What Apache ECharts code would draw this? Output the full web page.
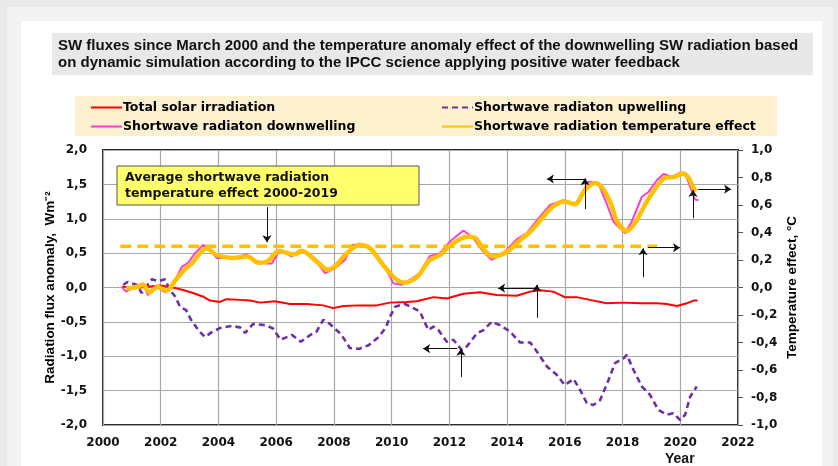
<!DOCTYPE html>
<html>
<head>
<meta charset="utf-8">
<script src="https://cdn.jsdelivr.net/npm/echarts@6/dist/echarts.min.js"></script>
<style>
  html, body { margin: 0; padding: 0; background: #e9e9e9; }
  #chart { width: 838px; height: 466px; }
</style>
</head>
<body>
<div id="chart"></div>
<script>
// Total solar irradiation, W/m2
const tsiYears = [2000.65, 2001.3, 2001.98, 2002.43, 2002.8, 2003.12, 2003.45, 2003.71, 2004.05, 2004.28, 2004.75, 2005.1, 2005.44, 2005.96, 2006.48, 2007.06, 2007.63, 2007.97, 2008.33, 2008.9, 2009.48, 2009.94, 2010.52, 2010.87, 2011.45, 2011.91, 2012.49, 2013.06, 2013.64, 2014.33, 2014.8, 2015.14, 2015.6, 2016.0, 2016.41, 2016.87, 2017.45, 2018.03, 2018.61, 2019.19, 2019.53, 2019.88, 2020.23, 2020.46, 2020.6];
const tsiValues = [0.01, 0.0, 0.03, 0.0, -0.04, -0.08, -0.13, -0.19, -0.21, -0.17, -0.18, -0.19, -0.22, -0.20, -0.24, -0.24, -0.26, -0.30, -0.27, -0.26, -0.26, -0.22, -0.21, -0.20, -0.14, -0.16, -0.09, -0.07, -0.11, -0.12, -0.06, -0.04, -0.06, -0.14, -0.14, -0.18, -0.23, -0.22, -0.23, -0.23, -0.24, -0.27, -0.23, -0.19, -0.19];

// Shortwave upwelling, W/m2
const upYears = [2000.7, 2000.85, 2001.17, 2001.34, 2001.69, 2001.92, 2002.15, 2002.32, 2002.5, 2002.67, 2002.88, 2003.05, 2003.3, 2003.53, 2003.77, 2004.05, 2004.45, 2004.75, 2004.92, 2005.2, 2005.67, 2005.9, 2006.15, 2006.55, 2006.85, 2007.15, 2007.4, 2007.63, 2007.86, 2008.25, 2008.55, 2008.75, 2008.88, 2009.2, 2009.55, 2009.8, 2009.95, 2010.12, 2010.46, 2010.75, 2010.98, 2011.27, 2011.45, 2011.62, 2011.91, 2012.14, 2012.43, 2012.6, 2012.95, 2013.18, 2013.47, 2013.76, 2014.1, 2014.45, 2014.8, 2015.03, 2015.38, 2015.72, 2016.0, 2016.3, 2016.53, 2016.76, 2016.99, 2017.22, 2017.51, 2017.74, 2018.03, 2018.15, 2018.38, 2018.67, 2018.95, 2019.24, 2019.53, 2019.76, 2020.0, 2020.17, 2020.34, 2020.57];
const upValues = [0.04, 0.08, 0.04, -0.08, 0.12, 0.09, 0.12, -0.04, -0.13, -0.28, -0.33, -0.47, -0.62, -0.72, -0.65, -0.59, -0.56, -0.58, -0.66, -0.53, -0.55, -0.60, -0.76, -0.69, -0.79, -0.70, -0.64, -0.47, -0.53, -0.68, -0.88, -0.89, -0.89, -0.84, -0.72, -0.58, -0.42, -0.28, -0.24, -0.30, -0.35, -0.62, -0.57, -0.62, -0.79, -0.76, -0.91, -0.86, -0.67, -0.62, -0.50, -0.55, -0.64, -0.80, -0.80, -0.93, -1.15, -1.27, -1.42, -1.33, -1.49, -1.68, -1.71, -1.64, -1.35, -1.10, -1.03, -0.98, -1.20, -1.44, -1.56, -1.78, -1.85, -1.83, -1.93, -1.85, -1.59, -1.44];

// Shortwave downwelling, W/m2
const downYears = [2000.65, 2000.8, 2001.05, 2001.4, 2001.55, 2001.86, 2002.15, 2002.43, 2002.73, 2002.95, 2003.19, 2003.47, 2003.64, 2003.94, 2004.5, 2004.98, 2005.33, 2005.67, 2005.85, 2006.13, 2006.54, 2006.83, 2007.35, 2007.69, 2008.04, 2008.38, 2008.62, 2008.96, 2009.31, 2009.71, 2010.06, 2010.35, 2010.7, 2010.98, 2011.33, 2011.68, 2012.02, 2012.49, 2012.83, 2013.12, 2013.47, 2013.87, 2014.33, 2014.68, 2015.14, 2015.49, 2015.95, 2016.35, 2016.59, 2016.82, 2017.16, 2017.45, 2017.68, 2017.91, 2018.09, 2018.32, 2018.67, 2018.9, 2019.19, 2019.42, 2019.71, 2020.0, 2020.17, 2020.34, 2020.51, 2020.63];
const downValues = [0.01, -0.06, 0.0, 0.06, -0.11, 0.01, -0.07, 0.05, 0.30, 0.36, 0.50, 0.62, 0.57, 0.43, 0.43, 0.48, 0.38, 0.35, 0.35, 0.55, 0.45, 0.55, 0.40, 0.21, 0.28, 0.40, 0.62, 0.63, 0.57, 0.35, 0.06, 0.04, 0.13, 0.21, 0.46, 0.50, 0.67, 0.83, 0.72, 0.55, 0.40, 0.50, 0.70, 0.79, 1.03, 1.20, 1.27, 1.20, 1.37, 1.54, 1.52, 1.22, 0.96, 0.86, 0.79, 0.96, 1.32, 1.39, 1.56, 1.65, 1.61, 1.67, 1.66, 1.47, 1.28, 1.27];

// Shortwave radiation temperature effect, °C (right axis)
const tempYears = [2000.8, 2001.1, 2001.4, 2001.6, 2001.9, 2002.2, 2002.5, 2002.8, 2003.1, 2003.4, 2003.6, 2003.9, 2004.5, 2005.0, 2005.4, 2005.7, 2006.1, 2006.6, 2006.9, 2007.4, 2007.8, 2008.1, 2008.4, 2008.9, 2009.25, 2009.7, 2010.1, 2010.45, 2010.9, 2011.3, 2011.7, 2012.0, 2012.6, 2012.9, 2013.2, 2013.5, 2014.0, 2014.45, 2014.8, 2015.3, 2015.6, 2016.0, 2016.35, 2016.7, 2017.05, 2017.3, 2017.6, 2017.8, 2018.15, 2018.45, 2018.8, 2019.1, 2019.45, 2019.8, 2020.1, 2020.3, 2020.45, 2020.55];
const tempValues = [-0.005, 0.0, 0.02, -0.035, 0.005, -0.025, 0.05, 0.125, 0.18, 0.26, 0.285, 0.24, 0.215, 0.225, 0.18, 0.19, 0.265, 0.24, 0.265, 0.19, 0.13, 0.165, 0.24, 0.31, 0.285, 0.165, 0.07, 0.035, 0.08, 0.195, 0.24, 0.30, 0.37, 0.36, 0.275, 0.225, 0.26, 0.345, 0.405, 0.525, 0.59, 0.625, 0.605, 0.71, 0.76, 0.725, 0.61, 0.485, 0.41, 0.475, 0.61, 0.71, 0.795, 0.805, 0.83, 0.795, 0.725, 0.70];

// average temperature effect 2000-2019, °C
const avgYears = [2000.6, 2019.2];
const avgValues = [0.30, 0.30];

// annotation arrows [x1, y1, x2, y2] in left-axis units, arrowhead at the second point
const arrowSegs = [
  [2005.68, 1.17, 2005.68, 0.66],
  [2016.70, 1.14, 2016.70, 1.59],
  [2016.70, 1.58, 2015.38, 1.58],
  [2020.44, 1.01, 2020.44, 1.42],
  [2020.61, 1.43, 2021.76, 1.43],
  [2018.71, 0.15, 2018.71, 0.57],
  [2018.88, 0.58, 2019.99, 0.58],
  [2015.03, -0.44, 2015.03, 0.04],
  [2014.97, -0.01, 2013.69, -0.01],
  [2012.40, -1.30, 2012.40, -0.89],
  [2012.27, -0.89, 2011.09, -0.89]
];

const xTicks = { min: 2000, max: 2022, interval: 2 };

const pairs = (xs, ys) => xs.map((x, i) => [x, ys[i]]);
const comma = v => v.toFixed(1).replace('.', ',');

const verdana = "'DejaVu Sans', Verdana, sans-serif";
const arial = "'Liberation Sans', Arial, sans-serif";

const chart = echarts.init(document.getElementById('chart'), null, { renderer: 'canvas' });

const legendBase = {
  orient: 'vertical', top: 101, padding: 0,
  itemWidth: 31, itemHeight: 10, itemGap: 6,
  selectedMode: false,
  itemStyle: { opacity: 0 },
  textStyle: { fontFamily: verdana, fontWeight: 'bold', fontSize: 12.5, color: '#000', padding: [0, 0, 0, -4] }
};

const option = {
  backgroundColor: '#e9e9e9',
  animation: false,
  grid: {
    left: 103, right: 100, top: 150, bottom: 41,
    show: true, borderColor: '#2b2b2b', borderWidth: 2,
    containLabel: false, outerBoundsMode: 'none'
  },
  legend: [
    Object.assign({}, legendBase, {
      data: ['Total solar irradiation', 'Shortwave radiaton downwelling'],
      left: 90
    }),
    Object.assign({}, legendBase, {
      data: ['Shortwave radiaton upwelling', 'Shortwave radiation temperature effect'],
      left: 441
    })
  ],
  xAxis: {
    type: 'value',
    min: xTicks.min, max: xTicks.max, interval: xTicks.interval,
    axisLine: { show: false },
    axisTick: { show: false },
    splitLine: { lineStyle: { color: '#a8a8a8', width: 1.2 } },
    axisLabel: {
      margin: 12, color: '#111',
      fontFamily: verdana, fontWeight: 'bold', fontSize: 12,
      formatter: v => String(v)
    }
  },
  yAxis: [
    {
      type: 'value', min: -2, max: 2, interval: 0.5,
      name: 'Radiation flux anomaly,  Wm⁻²',
      nameLocation: 'middle', nameRotate: 90, nameGap: 46, nameMoveOverlap: false,
      nameTextStyle: { fontFamily: arial, fontWeight: 'bold', fontSize: 13.5, color: '#000' },
      axisLine: { show: false },
      axisTick: { show: false },
      splitLine: { lineStyle: { color: '#a8a8a8', width: 1.2 } },
      axisLabel: {
        margin: 16, color: '#111',
        fontFamily: verdana, fontWeight: 'bold', fontSize: 12,
        formatter: comma
      }
    },
    {
      type: 'value', min: -1, max: 1, interval: 0.2,
      position: 'right',
      name: 'Temperature effect, °C',
      nameLocation: 'middle', nameRotate: 90, nameGap: 47, nameMoveOverlap: false,
      nameTextStyle: { fontFamily: arial, fontWeight: 'bold', fontSize: 13.5, color: '#000' },
      axisLine: { show: false },
      axisTick: { show: true, length: 5, lineStyle: { color: '#555', width: 1 } },
      splitLine: { show: false },
      axisLabel: {
        margin: 13, color: '#111',
        fontFamily: verdana, fontWeight: 'bold', fontSize: 12,
        formatter: v => comma(Math.round(v * 10) / 10)
      }
    }
  ],
  series: [
    {
      name: 'Total solar irradiation',
      type: 'line', yAxisIndex: 0, symbol: 'none',
      data: pairs(tsiYears, tsiValues),
      lineStyle: { color: '#ff0000', width: 2 },
      itemStyle: { color: '#ff0000' },
      markLine: {
        silent: true,
        symbol: ['none', 'arrow'],
        symbolSize: 7,
        label: { show: false },
        lineStyle: { color: '#111', width: 1, type: 'solid' },
        data: arrowSegs.map(s => [
          { coord: [s[0], s[1]], symbol: 'none' },
          { coord: [s[2], s[3]], symbol: 'arrow', symbolSize: 7 }
        ])
      }
    },
    {
      name: 'Shortwave radiaton upwelling',
      type: 'line', yAxisIndex: 0, symbol: 'none',
      data: pairs(upYears, upValues),
      lineStyle: { color: '#7030a0', width: 2.6, type: [6, 4] },
      itemStyle: { color: '#7030a0' }
    },
    {
      name: 'Shortwave radiaton downwelling',
      type: 'line', yAxisIndex: 0, symbol: 'none',
      data: pairs(downYears, downValues),
      lineStyle: { color: '#ff3dcc', width: 2 },
      itemStyle: { color: '#ff3dcc' }
    },
    {
      name: 'Shortwave radiation temperature effect',
      type: 'line', yAxisIndex: 1, symbol: 'none', smooth: 0.3,
      data: pairs(tempYears, tempValues),
      lineStyle: { color: '#ffc000', width: 4.5 },
      itemStyle: { color: '#ffc000' }
    },
    {
      name: 'Average temperature effect',
      type: 'line', yAxisIndex: 1, symbol: 'none',
      data: pairs(avgYears, avgValues),
      lineStyle: { color: '#ffc000', width: 3.5, type: [11, 6] },
      itemStyle: { color: '#ffc000' }
    }
  ],
  graphic: {
    elements: [
      { type: 'rect', z: -100, shape: { x: 7, y: 7, width: 826, height: 470 }, style: { fill: '#f3f3f3' } },
      { type: 'rect', z: -99, shape: { x: 21, y: 21, width: 801, height: 460 }, style: { fill: '#ffffff' } },
      { type: 'rect', z: -98, shape: { x: 52, y: 33, width: 761, height: 42 }, style: { fill: '#e8e8e8' } },
      {
        type: 'text', z: 5, left: 58, top: 37,
        style: {
          text: 'SW fluxes since March 2000 and the temperature anomaly effect of the downwelling SW radiation based\non dynamic simulation according to the IPCC science applying positive water feedback',
          font: 'bold 15px ' + arial, fill: '#111', lineHeight: 17
        }
      },
      { type: 'rect', z: -98, shape: { x: 75, y: 96, width: 702, height: 40 }, style: { fill: '#fdf0cf' } },
      {
        type: 'rect', z: 20, shape: { x: 117, y: 166, width: 302, height: 39 },
        style: { fill: '#ffff6e', stroke: '#555', lineWidth: 1 }
      },
      {
        type: 'text', z: 21, left: 125, top: 170,
        style: {
          text: 'Average shortwave radiation\ntemperature effect 2000-2019',
          font: 'bold 12.5px ' + verdana, fill: '#111', lineHeight: 16
        }
      },
      {
        type: 'text', z: 5, left: 665, top: 452,
        style: { text: 'Year', font: 'bold 14px ' + arial, fill: '#111' }
      }
    ]
  }
};

chart.setOption(option);
</script>
</body>
</html>
